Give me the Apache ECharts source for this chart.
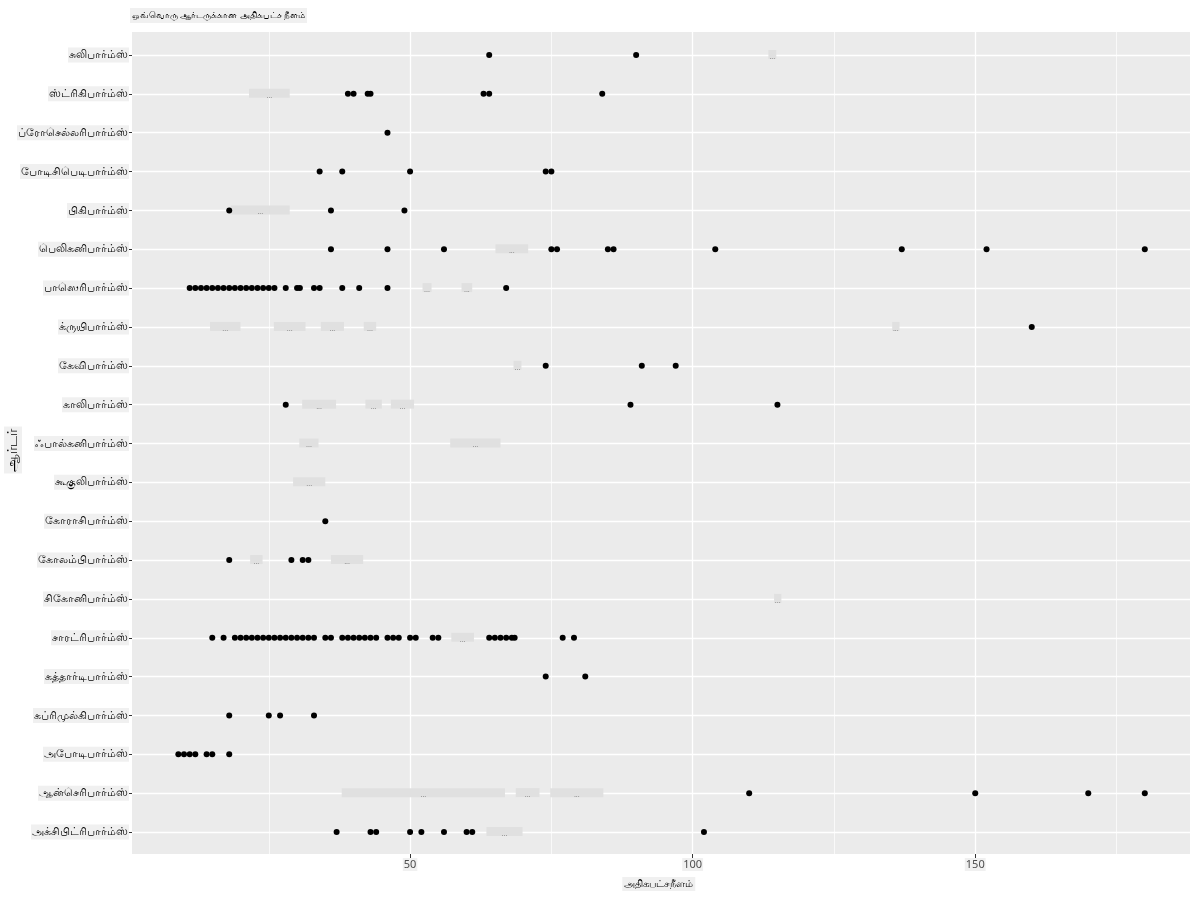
<!DOCTYPE html>
<html><head><meta charset="utf-8">
<script src="https://cdn.jsdelivr.net/npm/echarts@6/dist/echarts.min.js"></script>
<style>html,body{margin:0;padding:0;background:#fff}#c{width:1200px;height:900px}</style>
</head><body><div id="c"></div>
<script>
// Categories, top to bottom
const orders = [
  'சுலிபார்ம்ஸ்', 'ஸ்ட்ரிகிபார்ம்ஸ்', 'ப்ரோசெல்லரிபார்ம்ஸ்', 'போடிசிபெடிபார்ம்ஸ்', 'பிகிபார்ம்ஸ்',
  'பெலிகனிபார்ம்ஸ்', 'பாஸெரிபார்ம்ஸ்', 'க்ருயிபார்ம்ஸ்', 'கேவிபார்ம்ஸ்', 'காலிபார்ம்ஸ்',
  'ஃபால்கனிபார்ம்ஸ்', 'கூகுலிபார்ம்ஸ்', 'கோராசிபார்ம்ஸ்', 'கோலம்பிபார்ம்ஸ்', 'சிகோனிபார்ம்ஸ்',
  'சாரட்ரிபார்ம்ஸ்', 'கத்தார்டிபார்ம்ஸ்', 'கப்ரிமுல்கிபார்ம்ஸ்', 'அபோடிபார்ம்ஸ்', 'ஆன்செரிபார்ம்ஸ்',
  'அக்சிபிட்ரிபார்ம்ஸ்'
];
// Max length values per order (same order as above)
const suliformes = [64, 90];
const strigiformes = [39, 40, 42.5, 43, 63, 64, 84];
const procellariiformes = [46];
const podicipediformes = [34, 38, 50, 74, 75];
const piciformes = [18, 36, 49];
const pelecaniformes = [36, 46, 56, 75, 76, 85, 86, 104, 137, 152, 180];
const passeriformes = [11, 12, 13, 14, 15, 16, 17, 18, 19, 20, 21, 22, 23, 24, 25, 26, 28, 30, 30.5, 33, 34, 38, 41, 46, 67];
const gruiformes = [160];
const gaviiformes = [74, 91, 97];
const galliformes = [28, 89, 115];
const falconiformes = [];
const cuculiformes = [];
const coraciiformes = [35];
const columbiformes = [18, 29, 31, 32];
const ciconiiformes = [];
const charadriiformes = [15, 17, 19, 20, 21, 22, 23, 24, 25, 26, 27, 28, 29, 30, 31, 32, 33, 35, 36, 38, 39, 40, 41, 42, 43, 44, 46, 47, 48, 50, 51, 54, 55, 64, 65, 66, 67, 68, 68.5, 77, 79];
const cathartiformes = [74, 81];
const caprimulgiformes = [18, 25, 27, 33];
const apodiformes = [9, 10, 11, 12, 14, 15, 18];
const anseriformes = [110, 150, 170, 180];
const accipitriformes = [37, 43, 44, 50, 52, 56, 60, 61, 102];

const valuesByOrder = [
  suliformes, strigiformes, procellariiformes, podicipediformes, piciformes,
  pelecaniformes, passeriformes, gruiformes, gaviiformes, galliformes,
  falconiformes, cuculiformes, coraciiformes, columbiformes, ciconiiformes,
  charadriiformes, cathartiformes, caprimulgiformes, apodiformes, anseriformes,
  accipitriformes
];

// Light label boxes seen over the panel: [start, end, row index]
const overlayBoxes = [
  [113.4, 114.8, 0], [21.5, 28.7, 1], [18.3, 28.7, 4], [65.1, 70.9, 5],
  [52.2, 53.8, 6], [59.1, 61.0, 6],
  [14.6, 20.0, 7], [25.9, 31.5, 7], [34.2, 38.3, 7], [41.8, 44.0, 7], [135.3, 136.6, 7],
  [68.3, 69.7, 8],
  [30.9, 36.9, 9], [42.1, 45.0, 9], [46.6, 50.7, 9],
  [30.4, 33.8, 10], [57.1, 66.0, 10],
  [29.3, 35.0, 11],
  [21.7, 23.9, 13], [36.0, 41.7, 13],
  [114.4, 115.7, 14],
  [57.3, 61.3, 15],
  [37.9, 66.8, 19], [68.7, 72.9, 19], [74.8, 84.2, 19],
  [63.5, 69.9, 20]
];

const titleText = 'ஒவ்வொரு ஆர்டருக்கான அதிகபட்ச நீளம்';
const xName = 'அதிகபட்சநீளம்';
const yName = 'ஆர்டர்';
const xTickValues = [50, 100, 150];

const points = [];
valuesByOrder.forEach((arr, i) => arr.forEach(v => points.push([v, orders[i]])));

const FONT = '"Noto Sans", "DejaVu Sans", sans-serif';
const XMAX = 188;
const PANEL_L = 132, ZERO_L = 127.5, R = 10;
const XMIN_DATA = (PANEL_L - ZERO_L) * XMAX / (1200 - R - ZERO_L);

const chart = echarts.init(document.getElementById('c'), null, {renderer: 'canvas'});
chart.setOption({
  animation: false,
  backgroundColor: '#ffffff',
  title: {
    text: titleText, left: 130, top: 8,
    textStyle: {fontSize: 9, fontWeight: 'normal', color: '#000', fontFamily: FONT},
    backgroundColor: '#F0F0F0', padding: [3, 2]
  },
  graphic: [{
    type: 'text', left: 4, top: 'middle', rotation: Math.PI / 2,
    style: {text: yName, fontSize: 14, fill: '#000', font: '14px ' + FONT,
      backgroundColor: '#F0F0F0', padding: [2, 2]}
  }],
  grid: [
    {left: PANEL_L, right: R, top: 32, bottom: 46, show: true, backgroundColor: '#EBEBEB', borderWidth: 0,
      containLabel: false, outerBoundsMode: 'none'},
    {left: ZERO_L, right: R, top: 32, bottom: 46, show: false, containLabel: false, outerBoundsMode: 'none'},
    {left: PANEL_L, right: R, top: 55, bottom: 68, show: false, containLabel: false, outerBoundsMode: 'none'}
  ],
  xAxis: [
    {gridIndex: 0, type: 'value', min: 0, max: 1, show: false},
    {gridIndex: 1, type: 'value', min: 0, max: XMAX, interval: 25,
      axisLine: {show: false}, axisTick: {show: false}, axisLabel: {show: false},
      splitLine: {show: true, lineStyle: {color: '#FFFFFF', width: 0.7}}},
    {gridIndex: 1, type: 'value', min: 0, max: XMAX, interval: 50, position: 'bottom',
      axisLine: {show: false},
      axisTick: {show: true, length: 4, customValues: xTickValues, lineStyle: {color: '#333333', width: 1}},
      axisLabel: {show: true, customValues: xTickValues, color: '#4D4D4D', fontSize: 11, margin: 4,
        fontFamily: FONT, backgroundColor: '#F0F0F0', padding: [1, 1]},
      splitLine: {show: true, lineStyle: {color: '#FFFFFF', width: 1.3}},
      name: xName, nameLocation: 'middle', nameGap: 23,
      nameTextStyle: {fontSize: 10, color: '#000', fontFamily: FONT, backgroundColor: '#F0F0F0', padding: [2, 2]}},
    {gridIndex: 2, type: 'value', min: XMIN_DATA, max: XMAX, show: false, splitLine: {show: false}}
  ],
  yAxis: [
    {gridIndex: 0, type: 'value', min: 0, max: 1, show: false},
    {gridIndex: 1, type: 'value', min: 0, max: 1, show: false},
    {gridIndex: 2, type: 'category', data: orders, inverse: true, boundaryGap: false,
      axisLine: {show: false},
      axisTick: {show: true, length: 4, lineStyle: {color: '#333333', width: 1}},
      axisLabel: {color: '#000000', fontSize: 11, margin: 3, fontFamily: FONT,
        backgroundColor: '#F0F0F0', padding: [2, 1]},
      splitLine: {show: true, lineStyle: {color: '#FFFFFF', width: 1.3}}}
  ],
  series: [
    {
      type: 'custom', xAxisIndex: 3, yAxisIndex: 2, z: 2,
      data: overlayBoxes,
      encode: {x: [0, 1], y: 2},
      renderItem: function (params, api) {
        const s = api.coord([api.value(0), api.value(2)]);
        const e = api.coord([api.value(1), api.value(2)]);
        return {
          type: 'group',
          children: [
            {type: 'rect', shape: {x: s[0], y: s[1] - 5, width: Math.max(2, e[0] - s[0]), height: 9},
              style: {fill: '#E0E0E0'}},
            {type: 'text', style: {text: '...', x: (s[0] + e[0]) / 2, y: s[1] + 2, fontSize: 7,
              fill: '#666', align: 'center', verticalAlign: 'middle'}}
          ]
        };
      }
    },
    {
      type: 'scatter', xAxisIndex: 3, yAxisIndex: 2, z: 3,
      data: points, symbol: 'circle', symbolSize: 6,
      itemStyle: {color: '#000000', opacity: 1}
    }
  ]
});
</script>
</body></html>
